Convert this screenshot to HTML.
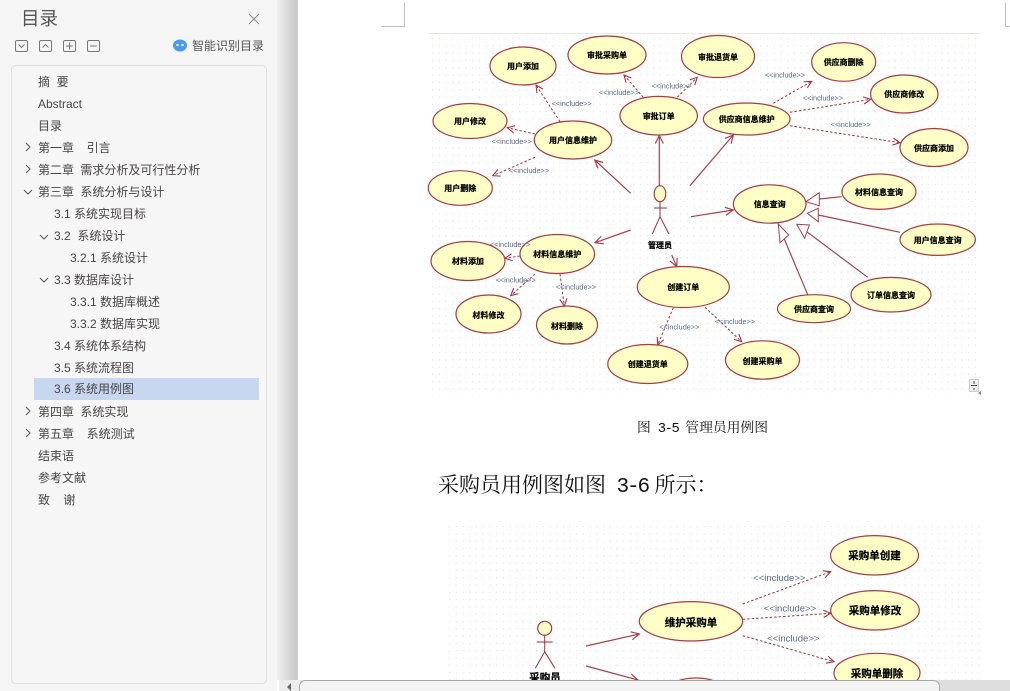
<!DOCTYPE html>
<html lang="zh"><head><meta charset="utf-8"><title>目录</title>
<style>
html,body{margin:0;padding:0;background:#fff}
#p{position:relative;width:1010px;height:691px;overflow:hidden;background:#fff;font-family:"Liberation Sans","Noto Sans CJK SC",sans-serif}
#side{position:absolute;left:0;top:0;width:277px;height:691px;background:#f5f5f5}
#shade{position:absolute;left:277px;top:0;width:21px;height:680px;background:linear-gradient(90deg,#f0f0f0,#e2e2e2 30%,#c6c6c6 97%,#dcdcdc)}
#panel{position:absolute;left:10.5px;top:64.5px;width:256px;height:619px;border:1px solid #e0e0e0;border-radius:5px;background:#f6f6f6;box-sizing:border-box}
#sel{position:absolute;left:34px;top:378px;width:225px;height:22px;background:#c7d7f0}
.r{position:absolute;font-size:12px;line-height:22px;height:22px;color:#484444;white-space:pre;margin-top:1px}
.c{word-spacing:3px}
#title{position:absolute;left:21px;top:6px;font-size:18.5px;line-height:26px;color:#555}
#smart{position:absolute;left:192px;top:38px;font-size:12px;line-height:16px;color:#555;white-space:pre}
#cap,#para{position:absolute;font-family:"Noto Serif CJK SC","Liberation Serif",serif;color:#111;white-space:pre}
#cap{left:637px;top:415px;font-size:13.8px;line-height:22px}
#para{left:438px;top:469px;font-size:21px;line-height:30px}
.m{font-family:"Liberation Mono",monospace;font-size:1em;letter-spacing:-.1em}
svg{position:absolute;left:0;top:0}
.u text{font-family:"Liberation Sans","Noto Sans CJK SC",sans-serif;font-weight:bold;font-size:8px;text-anchor:middle;fill:#000;stroke:#000;stroke-width:.2px}
.u ellipse,.u circle{fill:#ffffc6;stroke:#a93a48;stroke-width:1.2}
.inc text{font-family:"Liberation Sans",sans-serif;font-size:7.3px;text-anchor:middle;fill:#56688c;font-weight:normal}
.d line{stroke:#a8303f;stroke-width:1;stroke-dasharray:2.5 2;marker-end:url(#o)}
.s line{stroke:#a8404c;stroke-width:1.2;marker-end:url(#o2)}
.g line{stroke:#a8404c;stroke-width:1.2}
.g polygon{fill:#fff;stroke:#a8404c;stroke-width:1}
.a{stroke:#a32c38;stroke-width:1;fill:none}
.bl{filter:blur(.3px)}
</style></head><body><div id="p">
<div id="side"></div><div id="shade"></div><div id="panel"></div><div id="sel"></div>
<div id="title">目录</div>
<div id="smart">智能识别目录</div>
<div class="r" style="left:38px;top:70px">摘  要</div>
<div class="r" style="left:38px;top:92px">Abstract</div>
<div class="r" style="left:38px;top:114px">目录</div>
<div class="r c" style="left:38px;top:136px">第一章  引言</div>
<div class="r c" style="left:38px;top:158px">第二章 需求分析及可行性分析</div>
<div class="r c" style="left:38px;top:180px">第三章 系统分析与设计</div>
<div class="r" style="left:54px;top:202px">3.1 系统实现目标</div>
<div class="r" style="left:54px;top:224px">3.2  系统设计</div>
<div class="r" style="left:70px;top:246px">3.2.1 系统设计</div>
<div class="r" style="left:54px;top:268px">3.3 数据库设计</div>
<div class="r" style="left:70px;top:290px">3.3.1 数据库概述</div>
<div class="r" style="left:70px;top:312px">3.3.2 数据库实现</div>
<div class="r" style="left:54px;top:334px">3.4 系统体系结构</div>
<div class="r" style="left:54px;top:356px">3.5 系统流程图</div>
<div class="r" style="left:54px;top:377px">3.6 系统用例图</div>
<div class="r c" style="left:38px;top:400px">第四章 系统实现</div>
<div class="r c" style="left:38px;top:422px">第五章  系统测试</div>
<div class="r" style="left:38px;top:444px">结束语</div>
<div class="r" style="left:38px;top:466px">参考文献</div>
<div class="r" style="left:38px;top:488px">致    谢</div>
<div id="cap">图<span class="m"> 3-5 </span>管理员用例图</div>
<div id="para">采购员用例图如图<span class="m"> 3-6 </span><span style="margin-left:-4px">所示：</span></div>

<svg width="1010" height="691" viewBox="0 0 1010 691">
<defs>
<pattern id="dots" x="430" y="36" width="6.7" height="7.3" patternUnits="userSpaceOnUse"><rect x="2" y="2" width="1.2" height="1.2" fill="#e2e2dc"/></pattern>
<pattern id="dots2" x="447" y="524" width="6.7" height="7.3" patternUnits="userSpaceOnUse"><rect x="2" y="2" width="1.2" height="1.2" fill="#e2e2dc"/></pattern>
<marker id="o" markerUnits="userSpaceOnUse" markerWidth="9" markerHeight="9" refX="9" refY="5" orient="auto" viewBox="0 0 10 10"><path d="M1 1L9 5L1 9" fill="none" stroke="#a8303f" stroke-width="1.2"/></marker>
<marker id="o2" markerUnits="userSpaceOnUse" markerWidth="10" markerHeight="10" refX="9" refY="5" orient="auto" viewBox="0 0 10 10"><path d="M1 1L9 5L1 9" fill="none" stroke="#a8404c" stroke-width="1.2"/></marker>
</defs>

<!-- sidebar icons -->
<g fill="none" stroke="#777" stroke-width="1">
<rect x="15.5" y="40.5" width="12" height="11" rx="1.5"/><path d="M18.5 44.5l3 3 3-3"/>
<rect x="39.5" y="40.5" width="12" height="11" rx="1.5"/><path d="M42.5 47.5l3-3 3 3"/>
<rect x="63.5" y="40.5" width="12" height="11" rx="1.5"/><path d="M66 46h7M69.5 42.5v7"/>
<rect x="87.5" y="40.5" width="12" height="11" rx="1.5"/><path d="M90 46h7"/>
<path d="M249 14l10 10M259 14l-10 10" stroke="#888"/>
<g stroke="#555">
<path d="M26 143l4 4-4 4M26 165l4 4-4 4M26 407l4 4-4 4M26 429l4 4-4 4"/>
<path d="M24 190l4 4 4-4M40 235l4 4 4-4M40 278l4 4 4-4"/>
</g>
</g>
<ellipse cx="180" cy="45.5" rx="7" ry="6" fill="#4a9af0"/>
<circle cx="177.5" cy="45" r="1.2" fill="#fff"/><circle cx="182.5" cy="45" r="1.2" fill="#fff"/>

<!-- page corner marks -->
<path d="M381 26.5H404.500V3" fill="none" stroke="#bdbdbd"/>
<path d="M1010 26.500H1005.500V3" fill="none" stroke="#bdbdbd"/>

<!-- diagram 1 background -->
<rect x="430" y="34" width="550" height="362" fill="url(#dots)"/>
<line x1="428" y1="33.500" x2="980" y2="33.500" stroke="#eaeae4"/>

<g class="bl">
<g class="s">
<line x1="630.700" y1="193.300" x2="594.700" y2="160"/>
<line x1="659.300" y1="185.700" x2="659.300" y2="135.500"/>
<line x1="690" y1="185.700" x2="733.300" y2="135"/>
<line x1="691" y1="216.700" x2="733.300" y2="210"/>
<line x1="630.700" y1="230" x2="595" y2="242.700"/>
<line x1="671.700" y1="255" x2="676.700" y2="266.700"/>
</g>
<g class="d">
<line x1="560" y1="121.700" x2="536" y2="85"/>
<line x1="535" y1="134" x2="507.300" y2="127.700"/>
<line x1="535" y1="157.300" x2="492.700" y2="175.700"/>
<line x1="643.300" y1="97.300" x2="624" y2="75"/>
<line x1="677.300" y1="97.300" x2="697.300" y2="77.300"/>
<line x1="773.300" y1="103.300" x2="811.700" y2="81.300"/>
<line x1="790" y1="112.300" x2="870.700" y2="99.300"/>
<line x1="790" y1="125.700" x2="900" y2="142.700"/>
<line x1="520" y1="256" x2="505" y2="258.300"/>
<line x1="535" y1="274" x2="510.700" y2="295.700"/>
<line x1="560" y1="274" x2="564.300" y2="306"/>
<line x1="673.300" y1="307.700" x2="657.700" y2="345"/>
<line x1="705" y1="307.300" x2="741.700" y2="341.700"/>
</g>
<g class="g">
<line x1="841.700" y1="196.700" x2="819.300" y2="199"/><polygon points="806,201.700 819.300,192.700 819.300,205.700"/>
<line x1="900" y1="232.300" x2="818.300" y2="215"/><polygon points="807.300,213.300 818.300,208.300 818.300,221.700"/>
<line x1="867.700" y1="277.300" x2="806.700" y2="231.700"/><polygon points="796.700,224.300 809.300,225 804.700,238.300"/>
<line x1="807.700" y1="294.700" x2="784.300" y2="239"/><polygon points="778.300,224 788.700,235 780,242.700"/>
</g>

<g class="u">
<ellipse cx="523" cy="66" rx="33" ry="19"/><text x="523" y="69">用户添加</text>
<ellipse cx="607" cy="55" rx="39" ry="19"/><text x="607" y="58">审批采购单</text>
<ellipse cx="718" cy="56.500" rx="36.500" ry="21"/><text x="718" y="60">审批退货单</text>
<ellipse cx="470" cy="121" rx="37" ry="17.500"/><text x="470" y="124">用户修改</text>
<ellipse cx="573" cy="140" rx="38.700" ry="19"/><text x="573" y="143">用户信息维护</text>
<ellipse cx="658.700" cy="115.700" rx="38.700" ry="19.300"/><text x="658.700" y="119">审批订单</text>
<ellipse cx="460.300" cy="188" rx="32" ry="17.300"/><text x="460.300" y="191">用户删除</text>
<ellipse cx="746.700" cy="119" rx="43.300" ry="16"/><text x="746.700" y="122">供应商信息维护</text>
<ellipse cx="843.700" cy="62" rx="32" ry="19.300"/><text x="843.700" y="65">供应商删除</text>
<ellipse cx="904.300" cy="94" rx="33.700" ry="19"/><text x="904.300" y="97">供应商修改</text>
<ellipse cx="934" cy="147.500" rx="34" ry="19"/><text x="934" y="151">供应商添加</text>
<ellipse cx="879" cy="191.700" rx="37" ry="17.700"/><text x="879" y="195">材料信息查询</text>
<ellipse cx="769.700" cy="204" rx="36.300" ry="19.200"/><text x="769.700" y="207">信息查询</text>
<ellipse cx="937.700" cy="239.700" rx="37.700" ry="15.700"/><text x="937.700" y="243">用户信息查询</text>
<ellipse cx="891" cy="294.700" rx="40" ry="17.300"/><text x="891" y="298">订单信息查询</text>
<ellipse cx="814" cy="308.700" rx="36.500" ry="14"/><text x="814" y="312">供应商查询</text>
<ellipse cx="762.500" cy="360" rx="37" ry="19.200"/><text x="762.500" y="364">创建采购单</text>
<ellipse cx="683.300" cy="287" rx="46" ry="20.500"/><text x="683.300" y="290">创建订单</text>
<ellipse cx="647.800" cy="364" rx="40" ry="19.500"/><text x="647.800" y="367">创建退货单</text>
<ellipse cx="468" cy="261" rx="37" ry="19.500"/><text x="468" y="264">材料添加</text>
<ellipse cx="557.300" cy="254" rx="37.300" ry="19.500"/><text x="557.300" y="257">材料信息维护</text>
<ellipse cx="488.500" cy="314" rx="32.500" ry="19"/><text x="488.500" y="318">材料修改</text>
<ellipse cx="567" cy="325" rx="30.500" ry="19"/><text x="567" y="329">材料删除</text>
<ellipse cx="660" cy="193.700" rx="5.800" ry="8"/>
<text x="660" y="248">管理员</text>
</g>
<path class="a" d="M660 201.700V216.700M654 208H667M660 216.700L652.300 234M660 216.700L669 234"/>

<g class="inc">
<text x="571.700" y="106">&lt;&lt;include&gt;&gt;</text>
<text x="511.700" y="144">&lt;&lt;include&gt;&gt;</text>
<text x="529" y="173">&lt;&lt;include&gt;&gt;</text>
<text x="619" y="95">&lt;&lt;include&gt;&gt;</text>
<text x="671.700" y="88.500">&lt;&lt;include&gt;&gt;</text>
<text x="785" y="77.500">&lt;&lt;include&gt;&gt;</text>
<text x="823" y="100.500">&lt;&lt;include&gt;&gt;</text>
<text x="850.700" y="127">&lt;&lt;include&gt;&gt;</text>
<text x="510" y="247">&lt;&lt;include&gt;&gt;</text>
<text x="515.700" y="282.500">&lt;&lt;include&gt;&gt;</text>
<text x="576" y="289.500">&lt;&lt;include&gt;&gt;</text>
<text x="679.300" y="329.500">&lt;&lt;include&gt;&gt;</text>
<text x="735" y="324">&lt;&lt;include&gt;&gt;</text>
</g>
</g>

<!-- small table handle -->
<rect x="969.500" y="379.500" width="9" height="12" fill="#f0f0f0" stroke="#ccc"/>
<path d="M974 381v3M974 388v2M971 385.500h6" stroke="#444"/>
<path d="M981 391l-3 2 3 2z" fill="#888"/>

<!-- diagram 2 -->
<rect x="447" y="522" width="538" height="158" fill="url(#dots2)"/>
<g class="bl">
<g class="s">
<line x1="586" y1="646" x2="639.300" y2="634"/>
<line x1="586" y1="666" x2="638" y2="680"/>
</g>
<g class="d">
<line x1="742.700" y1="604" x2="830.700" y2="571.700"/>
<line x1="742.700" y1="619.300" x2="830.700" y2="613.300"/>
<line x1="742.700" y1="635.700" x2="834" y2="661.700"/>
</g>
<g class="u">
<ellipse cx="874.500" cy="555.300" rx="44" ry="19.700"/><text x="874.500" y="559" style="font-size:10.500px">采购单创建</text>
<ellipse cx="875" cy="610.300" rx="44.300" ry="19.700"/><text x="875" y="614" style="font-size:10.500px">采购单修改</text>
<ellipse cx="877" cy="673" rx="43" ry="19.700"/><text x="877" y="677" style="font-size:10.500px">采购单删除</text>
<ellipse cx="691" cy="621.300" rx="51.700" ry="19.700"/><text x="691" y="626" style="font-size:10.500px">维护采购单</text>
<ellipse cx="696" cy="698" rx="35" ry="20"/>
<circle cx="544.700" cy="628.300" r="7"/>
<text x="545" y="681" style="font-size:10.500px">采购员</text>
</g>
<path class="a" d="M544.700 635.300V651.700M536.700 642H552.700M544.700 651.700L535.300 668.300M544.700 651.700L555 668.300"/>
<g class="inc">
<text x="779.300" y="581" style="font-size:9.500px">&lt;&lt;include&gt;&gt;</text>
<text x="790" y="611.500" style="font-size:9.500px">&lt;&lt;include&gt;&gt;</text>
<text x="793.300" y="641.500" style="font-size:9.500px">&lt;&lt;include&gt;&gt;</text>
</g>
</g>

<!-- bottom scrollbar -->
<rect x="279" y="680" width="731" height="11" fill="#dedede"/>
<rect x="279" y="680" width="21" height="11" fill="#ececec"/>
<path d="M291 683l-4 4 4 4z" fill="#666"/>
<rect x="299.500" y="680.500" width="640" height="16" rx="6" fill="#f3f3f3" stroke="#a8a8a8"/>
</svg>
</div></body></html>
